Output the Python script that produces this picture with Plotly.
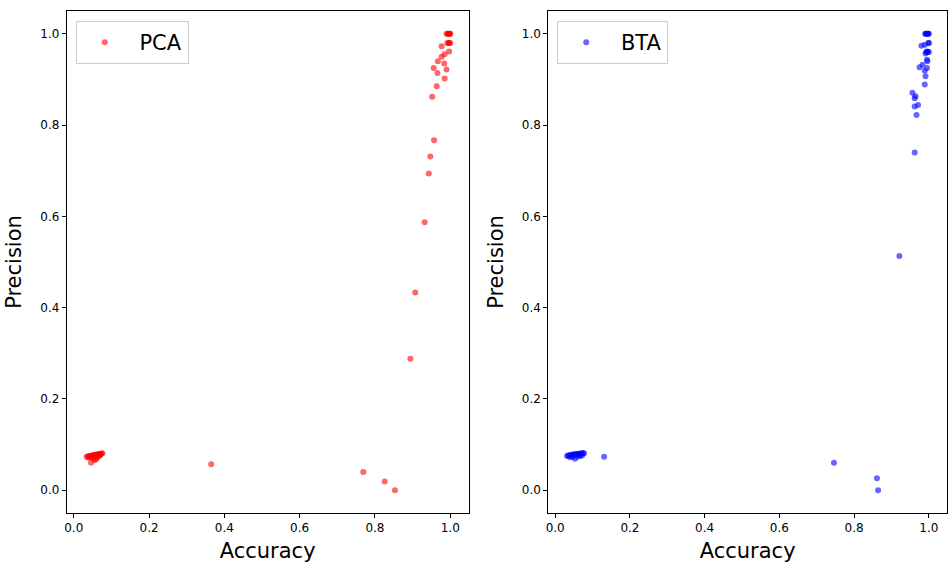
import plotly.graph_objects as go

# ---- data ----
pca_acc = [
    0.034, 0.038, 0.041, 0.044, 0.047, 0.050, 0.053, 0.056, 0.059, 0.062, 0.065, 0.068, 0.071, 0.074, 0.076,
    0.040, 0.045, 0.050, 0.055, 0.060, 0.065, 0.070, 0.046, 0.055, 0.060, 0.052, 0.063, 0.068,
    0.365, 0.769, 0.826, 0.853,
    0.894, 0.907, 0.932, 0.943, 0.947, 0.957, 0.952, 0.964, 0.985, 0.966, 0.990, 0.956, 0.984,
    0.967, 0.977, 0.985, 0.997, 0.977, 0.997,
    0.990, 0.993, 0.995, 0.997, 0.999, 1.000, 0.992, 0.996, 1.000,
]
pca_prec = [
    0.073, 0.074, 0.075, 0.075, 0.076, 0.076, 0.077, 0.077, 0.078, 0.078, 0.079, 0.079, 0.080, 0.080, 0.081,
    0.071, 0.072, 0.073, 0.074, 0.075, 0.076, 0.077, 0.060, 0.066, 0.068, 0.070, 0.072, 0.075,
    0.057, 0.040, 0.019, 0.000,
    0.288, 0.433, 0.587, 0.694, 0.731, 0.767, 0.862, 0.885, 0.902, 0.914, 0.922, 0.925, 0.935,
    0.940, 0.950, 0.955, 0.961, 0.973, 0.980,
    1.000, 1.000, 1.000, 1.000, 1.000, 1.000, 0.980, 0.980, 0.980,
]

bta_acc = [
    0.032, 0.035, 0.038, 0.041, 0.044, 0.047, 0.050, 0.053, 0.056, 0.059, 0.062, 0.065, 0.068, 0.071, 0.074, 0.077,
    0.040, 0.046, 0.053, 0.060, 0.066, 0.072, 0.131,
    0.746, 0.861, 0.864,
    0.921, 0.962, 0.967, 0.962, 0.971, 0.962, 0.964, 0.956, 0.989, 0.991, 0.989, 0.995,
    0.983, 0.975, 0.995, 0.991, 0.995, 0.989, 0.980, 0.999,
    0.990, 0.992, 0.994, 0.996, 0.998, 1.000, 0.993, 0.997, 1.000, 0.996, 1.000,
]
bta_prec = [
    0.075, 0.076, 0.076, 0.077, 0.077, 0.078, 0.078, 0.079, 0.079, 0.079, 0.080, 0.080, 0.080, 0.081, 0.081, 0.081,
    0.072, 0.073, 0.069, 0.074, 0.075, 0.076, 0.073,
    0.060, 0.026, 0.000,
    0.513, 0.740, 0.822, 0.841, 0.844, 0.859, 0.863, 0.871, 0.889, 0.907, 0.919, 0.925,
    0.932, 0.927, 0.943, 0.957, 0.961, 0.976, 0.974, 0.980,
    1.000, 1.000, 1.000, 1.000, 1.000, 1.000, 0.960, 0.960, 0.980, 0.940, 0.960,
]

x_ticks = [0.0, 0.2, 0.4, 0.6, 0.8, 1.0]
y_ticks = [0.0, 0.2, 0.4, 0.6, 0.8, 1.0]

W, H = 950, 566
FONT = "DejaVu Sans"

fig = go.Figure()
fig.add_trace(go.Scatter(
    x=pca_acc, y=pca_prec, mode="markers", name="\u00a0PCA", showlegend=True,
    marker=dict(color="rgba(255,0,0,0.6)", size=6, line=dict(width=0)),
    xaxis="x", yaxis="y", legend="legend",
))
fig.add_trace(go.Scatter(
    x=bta_acc, y=bta_prec, mode="markers", name="\u00a0BTA", showlegend=True,
    marker=dict(color="rgba(0,0,255,0.6)", size=6, line=dict(width=0)),
    xaxis="x2", yaxis="y2", legend="legend2",
))

xd1 = [64 / W, 467 / W]
xd2 = [547 / W, 947 / W]
yd = [1 - 513 / H, 1 - 11 / H]

common_axis = dict(
    showgrid=False, zeroline=False, showline=True, linecolor="black", linewidth=1,
    mirror=True, ticks="outside", ticklen=4, tickwidth=1, tickcolor="black",
    tickfont=dict(family=FONT, size=12, color="black"), tickformat=".1f",
)

xr = [-0.0185, 1.0485]
yr = [-0.05, 1.05]

legend_common = dict(
    xanchor="left", yanchor="top", bgcolor="rgba(255,255,255,0.8)",
    bordercolor="#cccccc", borderwidth=1, itemwidth=46, tracegroupgap=0,
    font=dict(family=FONT, size=21, color="black"),
)

fig.update_layout(
    width=W, height=H, showlegend=True,
    margin=dict(l=0, r=0, t=0, b=0),
    paper_bgcolor="white", plot_bgcolor="white",
    font=dict(family=FONT, color="black"),
    xaxis=dict(domain=xd1, range=xr, tickvals=x_ticks, anchor="y",
               title=dict(text="Accuracy", font=dict(size=21), standoff=8), **common_axis),
    yaxis=dict(domain=yd, range=yr, tickvals=y_ticks, anchor="x",
               title=dict(text="Precision", font=dict(size=21), standoff=12), **common_axis),
    xaxis2=dict(domain=xd2, range=xr, tickvals=x_ticks, anchor="y2",
                title=dict(text="Accuracy", font=dict(size=21), standoff=8), **common_axis),
    yaxis2=dict(domain=yd, range=yr, tickvals=y_ticks, anchor="x2",
                title=dict(text="Precision", font=dict(size=21), standoff=12), **common_axis),
    legend=dict(x=73 / W, y=1 - 21 / H, **legend_common),
    legend2=dict(x=556 / W, y=1 - 21 / H, **legend_common),
)

fig.write_html("out.html")
